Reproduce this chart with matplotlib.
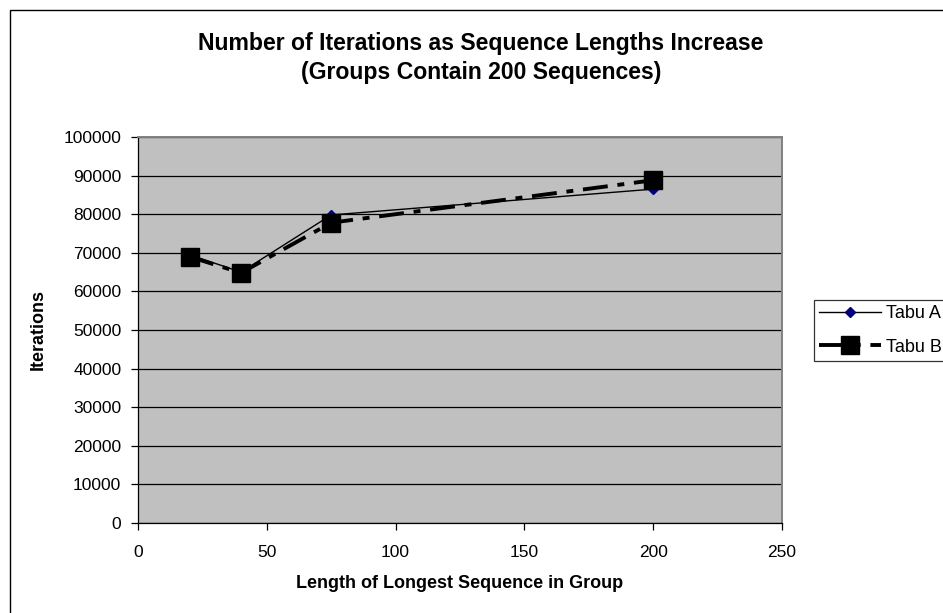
import matplotlib
matplotlib.use("Agg")
import matplotlib.pyplot as plt
from matplotlib.patches import Rectangle

plt.rcParams['font.family'] = ['Liberation Sans', 'DejaVu Sans']
plt.rcParams['lines.scale_dashes'] = False

x_len = [20, 40, 75, 200]
tabu_a = [69500, 65000, 79800, 86500]
tabu_b = [69000, 64800, 77800, 88800]
series_names = ["Tabu A", "Tabu B"]
title = "Number of Iterations as Sequence Lengths Increase\n(Groups Contain 200 Sequences)"
xlabel = "Length of Longest Sequence in Group"
ylabel = "Iterations"

W, H = 943, 613
fig = plt.figure(figsize=(W/100, H/100), dpi=100)
fig.patch.set_facecolor('white')

# outer chart frame
fig.add_artist(Rectangle((10/W, -0.1), 1.2, 1 - 10/H + 0.1, transform=fig.transFigure,
                         fill=False, edgecolor='black', linewidth=1.0, clip_on=False))

ax = fig.add_axes([138/W, (H-523)/H, 644/W, 386/H])
ax.set_facecolor('#c0c0c0')
ax.set_xlim(0, 250)
ax.set_ylim(0, 100000)
ax.set_xticks(range(0, 251, 50))
ax.set_yticks(range(0, 100001, 10000))
ax.yaxis.grid(True, color='black', linewidth=0.9)
ax.set_axisbelow(True)
for s in ['top', 'right']:
    ax.spines[s].set_color('#808080')
    ax.spines[s].set_linewidth(1.4)
for s in ['left', 'bottom']:
    ax.spines[s].set_color('black')
    ax.spines[s].set_linewidth(0.9)
ax.tick_params(direction='out', length=5, width=0.9, labelsize=12.5, colors='black')
ax.tick_params(axis='y', pad=7)
ax.tick_params(axis='x', pad=11)

la, = ax.plot(x_len, tabu_a, color='black', linewidth=1.0, marker='D', markersize=5,
              markerfacecolor='#000080', markeredgecolor='#000080', label=series_names[0], zorder=3)
lb, = ax.plot(x_len, tabu_b, color='black', linewidth=2.8, marker='s', markersize=13,
              markerfacecolor='black', markeredgecolor='black', label=series_names[1], zorder=4)
lb.set_dashes((18, 7, 5, 7))

fig.text(481 / W, 1 - 58 / H, title, ha='center', va='center', fontsize=16.6,
         fontweight='bold', linespacing=1.3)
ax.set_xlabel(xlabel, fontsize=13, fontweight='bold', labelpad=11)
ax.set_ylabel(ylabel, fontsize=13, fontweight='bold', labelpad=12)

leg = fig.legend(handles=[la, lb], loc='upper left', bbox_to_anchor=(814/W, 1 - 300/H),
                 frameon=True, fancybox=False, edgecolor='black', fontsize=13,
                 handlelength=3.4, borderpad=0.3, labelspacing=0.9, handletextpad=0.3,
                 borderaxespad=0)
leg.get_frame().set_linewidth(0.9)

fig.savefig("out.png", dpi=100)
